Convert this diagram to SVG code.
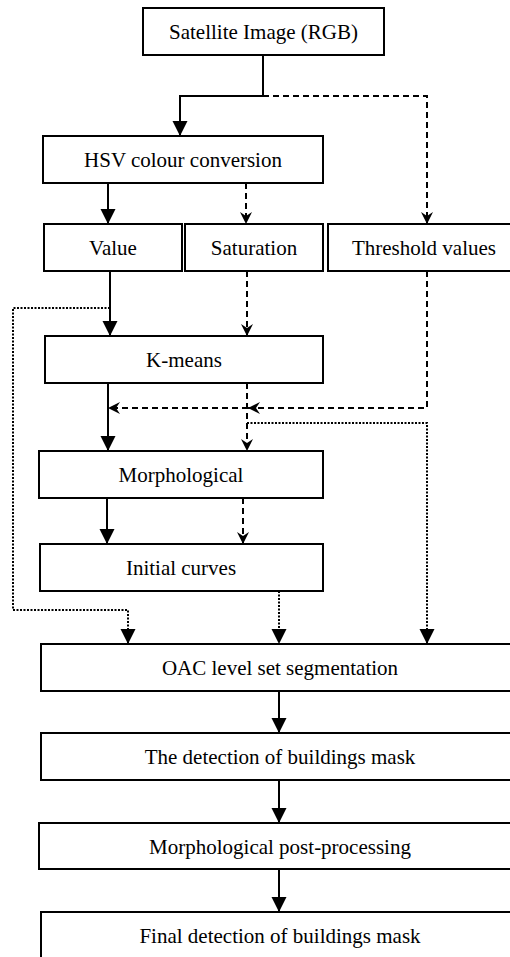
<svg xmlns="http://www.w3.org/2000/svg" width="510" height="957" viewBox="0 0 510 957">
<style>
.box{fill:#fff;stroke:#000;stroke-width:2}
.lbl{font-family:"Liberation Serif","Times New Roman",serif;font-size:21px;fill:#000;text-anchor:middle}
.c{fill:none;stroke:#000;stroke-width:2}
.solid{marker-end:url(#tri)}
.dash{stroke-dasharray:6,4;marker-end:url(#notch)}
.dot{stroke-dasharray:2,1.5;marker-end:url(#tri)}
</style>
<defs>
<marker id="tri" markerUnits="userSpaceOnUse" markerWidth="16" markerHeight="16" refX="15" refY="7.5" orient="auto" viewBox="0 0 16 16">
<path d="M0,0 L15,7.5 L0,15 z" fill="#000"/>
</marker>
<marker id="notch" markerUnits="userSpaceOnUse" markerWidth="14" markerHeight="14" refX="12" refY="6" orient="auto" viewBox="0 0 14 14">
<path d="M0,0 L12,6 L0,12 L4,6 z" fill="#000"/>
</marker>
</defs>
<g id="connectors">
<path class="c solid" d="M263,55 V96 H180 V136"/>
<path class="c dash" d="M263,96 H427 V224"/>
<path class="c solid" d="M108,183 V224"/>
<path class="c dash" d="M246,183 V224"/>
<path class="c solid" d="M110,271 V336"/>
<path class="c dash" d="M247,271 V336"/>
<path class="c dot" d="M110,308 H13 V610 H128 V644"/>
<path class="c dash" d="M427,271 V408 H248"/>
<path class="c dash" d="M248,408 H108"/>
<path class="c solid" d="M108,383 V451"/>
<path class="c dash" d="M247,383 V451"/>
<path class="c dot" d="M247,423 H427 V644"/>
<path class="c solid" d="M107,498 V544"/>
<path class="c dash" d="M243,498 V544"/>
<path class="c dot" d="M279,591 V644"/>
<path class="c solid" d="M279,691 V733"/>
<path class="c solid" d="M279,780 V823"/>
<path class="c solid" d="M279,869 V912"/>
</g>
<g id="satellite"><rect class="box" x="143" y="8" width="241" height="47"/><text class="lbl" x="263.5" y="39">Satellite Image (RGB)</text></g>
<g id="hsv"><rect class="box" x="43" y="136" width="280" height="47"/><text class="lbl" x="183" y="167">HSV colour conversion</text></g>
<g id="value"><rect class="box" x="44" y="224" width="138" height="47"/><text class="lbl" x="113" y="255">Value</text></g>
<g id="saturation"><rect class="box" x="185" y="224" width="138" height="47"/><text class="lbl" x="254" y="255">Saturation</text></g>
<g id="threshold"><rect class="box" x="328" y="224" width="192" height="47"/><text class="lbl" x="424" y="255">Threshold values</text></g>
<g id="kmeans"><rect class="box" x="45" y="336" width="278" height="47"/><text class="lbl" x="184" y="367">K-means</text></g>
<g id="morphological"><rect class="box" x="39" y="451" width="284" height="47"/><text class="lbl" x="181" y="482">Morphological</text></g>
<g id="initial"><rect class="box" x="40" y="544" width="283" height="47"/><text class="lbl" x="181" y="575">Initial curves</text></g>
<g id="oac"><rect class="box" x="41" y="644" width="478" height="47"/><text class="lbl" x="280" y="675">OAC level set segmentation</text></g>
<g id="detection"><rect class="box" x="41" y="733" width="478" height="47"/><text class="lbl" x="280" y="764">The detection of buildings mask</text></g>
<g id="postproc"><rect class="box" x="39" y="823" width="480" height="46"/><text class="lbl" x="280" y="854">Morphological post-processing</text></g>
<g id="final"><rect class="box" x="41" y="912" width="478" height="60"/><text class="lbl" x="280" y="943">Final detection of buildings mask</text></g>
</svg>
